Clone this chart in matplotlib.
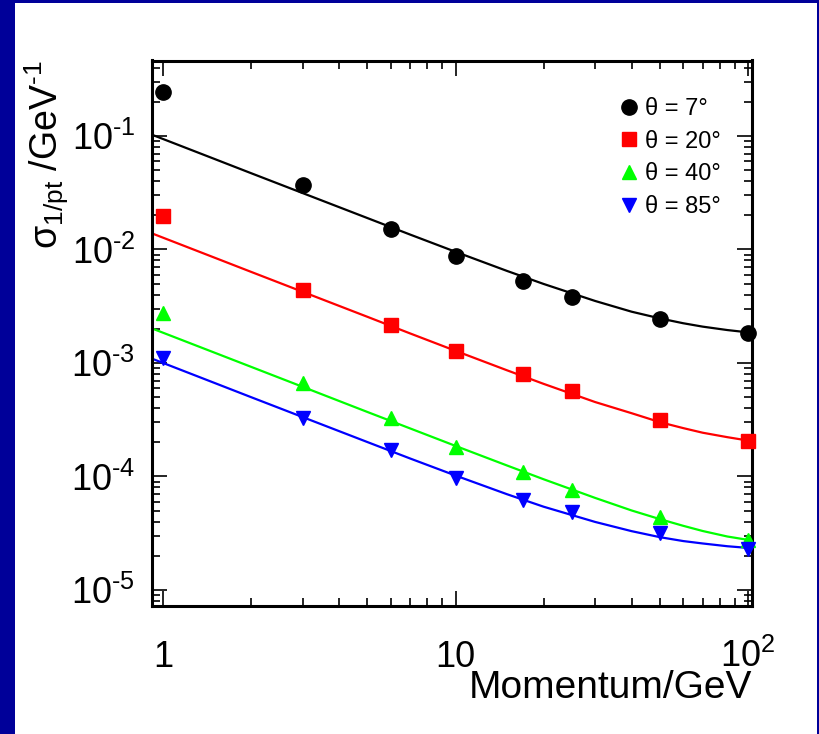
import matplotlib
matplotlib.use('Agg')
import matplotlib.pyplot as plt
from matplotlib.patches import Rectangle
from matplotlib.ticker import FixedLocator, FixedFormatter, LogLocator, NullFormatter

# measured points: momentum (GeV) and sigma(1/pt) for each polar angle
momentum = [1, 3, 6, 10, 17, 25, 50, 100]
sigma_7 = [0.245, 0.037, 0.0152, 0.00877, 0.00527, 0.00382, 0.00244, 0.00184]
sigma_20 = [0.0197, 0.0044, 0.00216, 0.00128, 0.0008, 0.000566, 0.000315, 0.000206]
sigma_40 = [0.00276, 0.000667, 0.000327, 0.000182, 0.00011, 7.6e-5, 4.4e-5, 2.76e-5]
sigma_85 = [0.0011, 0.000327, 0.000171, 9.7e-5, 6.2e-5, 4.87e-5, 3.18e-5, 2.3e-5]

# fit curves
curve_p = [0.91, 1.5, 2, 3, 5, 7, 10, 15, 20, 30, 40, 50, 60, 70, 85, 104]
fit_7 = [0.1033, 0.0627, 0.047, 0.0314, 0.0189, 0.01352, 0.00954, 0.00647, 0.00497, 0.00352,
         0.00283, 0.00247, 0.00224, 0.00209, 0.00195, 0.00184]
fit_20 = [0.01396, 0.00847, 0.00635, 0.00424, 0.00255, 0.00182, 0.00128, 0.000862, 0.000655, 0.000453,
          0.000361, 0.000301, 0.000267, 0.000243, 0.000222, 0.000204]
fit_40 = [0.00203, 0.001233, 0.000925, 0.000617, 0.00037, 0.000265, 0.000186, 0.000125, 9.46e-5, 6.48e-5,
          5.02e-5, 4.21e-5, 3.68e-5, 3.31e-5, 2.96e-5, 2.72e-5]
fit_85 = [0.0011, 0.000667, 0.0005, 0.000334, 0.000201, 0.000144, 0.000102, 6.98e-5, 5.42e-5, 3.98e-5,
          3.3e-5, 2.92e-5, 2.7e-5, 2.57e-5, 2.43e-5, 2.33e-5]

labels = ['θ = 7°', 'θ = 20°', 'θ = 40°', 'θ = 85°']

x_ticks = [1, 10, 100]
x_tick_labels = ['1', '10', '$10^{2}$']
y_ticks = [1e-5, 1e-4, 1e-3, 1e-2, 1e-1]
y_tick_labels = [r'$10^{\text{-}5}$', r'$10^{\text{-}4}$', r'$10^{\text{-}3}$',
                 r'$10^{\text{-}2}$', r'$10^{\text{-}1}$']

plt.rcParams['font.family'] = ['Liberation Sans', 'DejaVu Sans']
plt.rcParams['mathtext.fontset'] = 'custom'
plt.rcParams['mathtext.rm'] = 'Liberation Sans'
plt.rcParams['mathtext.it'] = 'Liberation Sans:italic'
plt.rcParams['mathtext.default'] = 'regular'

fig = plt.figure(figsize=(8.19, 7.34), dpi=100, facecolor='#000099')
fig.add_artist(Rectangle((15 / 819, 0), 802 / 819, 731 / 734, transform=fig.transFigure,
                         facecolor='white', edgecolor='none', zorder=-1))
ax = fig.add_axes([152 / 819, 1 - 606 / 734, 600 / 819, 545.5 / 734])

series = [
    (sigma_7, fit_7, 'black', 'o', 11),
    (sigma_20, fit_20, 'red', 's', 9.5),
    (sigma_40, fit_40, '#00ff00', '^', 10.5),
    (sigma_85, fit_85, 'blue', 'v', 10.5),
]
for (pts, fit, col, mk, ms), lab in zip(series, labels):
    ax.plot(curve_p, fit, color=col, lw=1.6, zorder=2)
    ax.plot(momentum, pts, linestyle='none', marker=mk, ms=ms, color=col,
            markeredgecolor=col, label=lab, zorder=3, clip_on=False)

ax.set_xscale('log')
ax.set_yscale('log')
ax.set_xlim(0.917, 103.2)
ax.set_ylim(7.23e-6, 0.462)

ax.xaxis.set_major_locator(FixedLocator(x_ticks))
ax.xaxis.set_major_formatter(FixedFormatter(x_tick_labels))
ax.xaxis.set_minor_locator(LogLocator(base=10, subs=range(2, 10), numticks=20))
ax.xaxis.set_minor_formatter(NullFormatter())
ax.yaxis.set_major_locator(FixedLocator(y_ticks))
ax.yaxis.set_major_formatter(FixedFormatter(y_tick_labels))
ax.yaxis.set_minor_locator(LogLocator(base=10, subs=range(2, 10), numticks=20))
ax.yaxis.set_minor_formatter(NullFormatter())

ax.tick_params(which='both', direction='in', top=True, right=True, width=1.2)
ax.tick_params(which='major', length=11)
ax.tick_params(which='minor', length=6)
ax.tick_params(axis='y', labelsize=26, pad=12)
ax.tick_params(axis='x', labelsize=26, pad=44)
for t in ax.get_xticklabels():
    t.set_va('baseline')
for s in ax.spines.values():
    s.set_linewidth(2.2)

ax.set_xlabel('Momentum/GeV', fontsize=28, loc='right')
ax.xaxis.set_label_coords(1.0, -0.118)
ax.set_ylabel('σ$_{1/pt}$ /GeV$^{\\text{-}1}$', fontsize=27, loc='top')
ax.yaxis.set_label_coords(-0.135, 1.0)

ax.legend(loc='upper left', bbox_to_anchor=(0.76, 0.953), frameon=False, fontsize=17,
          handlelength=0.8, handletextpad=0.25, labelspacing=0.45, borderpad=0)

fig.savefig('out.png', dpi=100, facecolor=fig.get_facecolor())
